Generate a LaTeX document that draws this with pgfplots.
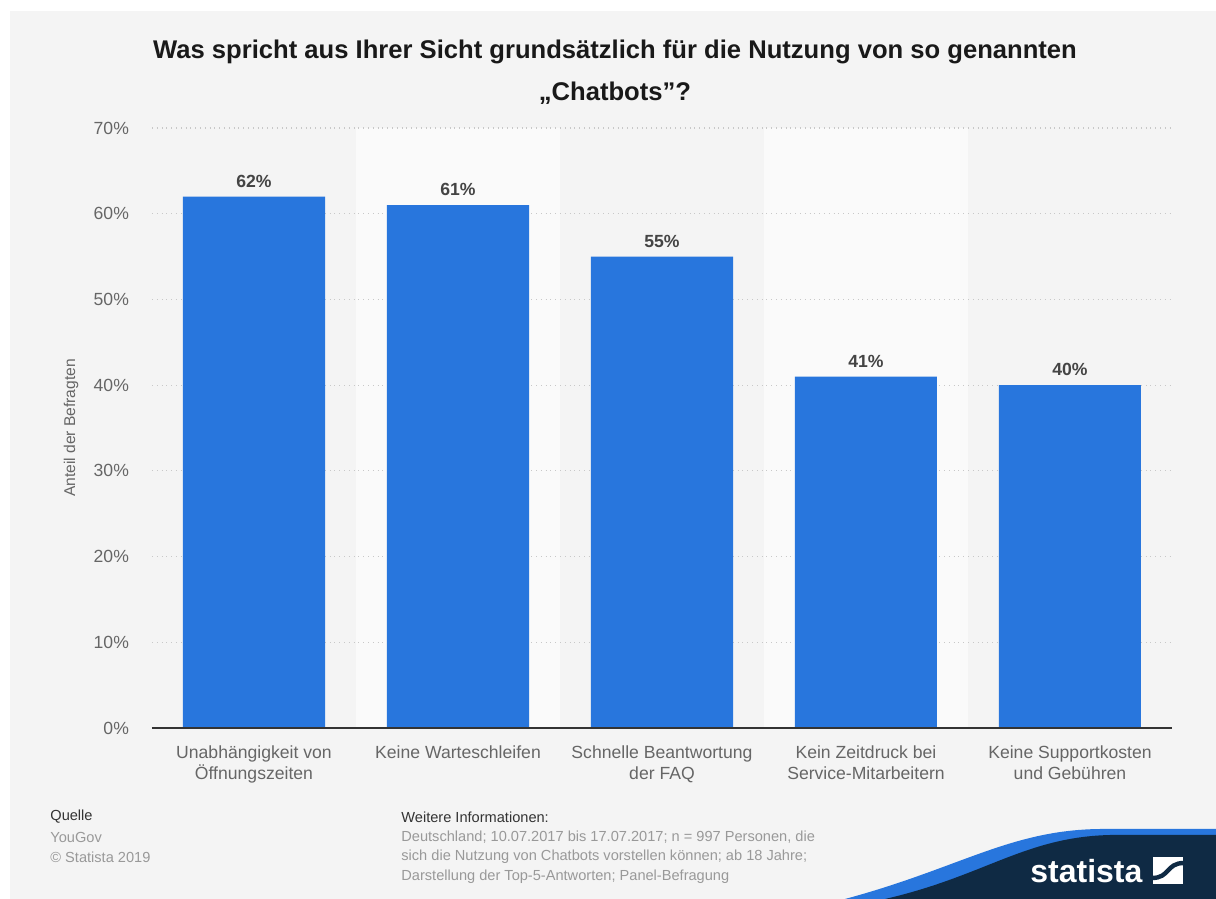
\documentclass[border=0pt]{standalone}
\usepackage{pgfplots}
\pgfplotsset{compat=1.18}
\usepackage{fontspec}
\setmainfont{Liberation Sans}
\definecolor{panel}{HTML}{F4F4F4}
\definecolor{lightcol}{HTML}{FAFAFA}
\definecolor{barblue}{HTML}{2876DD}
\definecolor{gridc}{HTML}{C8C8C8}
\definecolor{tickc}{HTML}{666666}
\definecolor{labc}{HTML}{444444}
\definecolor{footdark}{HTML}{333333}
\definecolor{footlight}{HTML}{999999}
\definecolor{navy}{HTML}{0F2A44}
\begin{document}
\begin{tikzpicture}
\begin{scope}[x=0.5pt,y=-0.5pt,shift={(0,449.5pt)}]
  \useasboundingbox (0,0) rectangle (1216,899);
  \fill[white] (0,0) rectangle (1216,899);
  \fill[panel] (10,11) rectangle (1216,899);
  \fill[lightcol] (356,128) rectangle (560,728);
  \fill[lightcol] (764,128) rectangle (968,728);
  % title
  \node[font=\fontsize{12.8pt}{14pt}\selectfont\bfseries, text=black!90] at (615,52) {Was spricht aus Ihrer Sicht grundsätzlich für die Nutzung von so genannten};
  \node[font=\fontsize{12.8pt}{14pt}\selectfont\bfseries, text=black!90] at (615,93) {„Chatbots”?};
  % y label
  \node[rotate=90, font=\fontsize{7.8pt}{9pt}\selectfont, text=tickc] at (71,428) {Anteil der Befragten};
  % footer
  \node[anchor=west, inner sep=0, font=\fontsize{7.3pt}{9pt}\selectfont, text=footdark] at (50,817) {Quelle};
  \node[anchor=west, inner sep=0, font=\fontsize{7.3pt}{9pt}\selectfont, text=footlight] at (50,837) {YouGov};
  \node[anchor=west, inner sep=0, font=\fontsize{7.3pt}{9pt}\selectfont, text=footlight] at (50,857) {© Statista 2019};
  \node[anchor=west, inner sep=0, font=\fontsize{7.3pt}{9pt}\selectfont, text=footdark] at (401,817) {Weitere Informationen:};
  \node[anchor=west, inner sep=0, font=\fontsize{7.3pt}{9pt}\selectfont, text=footlight] at (401,837) {Deutschland; 10.07.2017 bis 17.07.2017; n = 997 Personen, die};
  \node[anchor=west, inner sep=0, font=\fontsize{7.3pt}{9pt}\selectfont, text=footlight] at (401,857) {sich die Nutzung von Chatbots vorstellen können; ab 18 Jahre;};
  \node[anchor=west, inner sep=0, font=\fontsize{7.3pt}{9pt}\selectfont, text=footlight] at (401,877) {Darstellung der Top-5-Antworten; Panel-Befragung};
  % logo wave
  \fill[barblue] (845,899) .. controls (960,868) and (1010,830) .. (1100,829) -- (1216,829) -- (1216,899) -- cycle;
  \fill[navy] (885,899) .. controls (985,876) and (1025,837) .. (1110,835) -- (1216,835) -- (1216,899) -- cycle;
  \node[text=white, font=\fontsize{16pt}{17pt}\selectfont\bfseries, anchor=base west, inner sep=0] at (1030,883) {statista};
  \fill[white] (1153,857) rectangle (1183,884);
  \draw[navy, line width=2.2pt] (1152,878) .. controls (1170,878) and (1166,863) .. (1184,863);
\end{scope}
\begin{axis}[
  at={(76pt,85.5pt)}, anchor=south west,
  scale only axis, width=510pt, height=300pt,
  xmin=-0.5, xmax=4.5, ymin=0, ymax=70,
  ybar, bar width=71pt,
  /pgf/number format/assume math mode=true,
  axis line style={draw=none},
  major tick length=0pt,
  ytick={0,10,20,30,40,50,60,70},
  yticklabels={0\%,10\%,20\%,30\%,40\%,50\%,60\%,70\%},
  ymajorgrids, grid style={gridc, dotted, line width=0.6pt},
  xtick={0,1,2,3,4},
  xticklabels={{Unabhängigkeit von\\Öffnungszeiten},{Keine Warteschleifen},{Schnelle Beantwortung\\der FAQ},{Kein Zeitdruck bei\\Service-Mitarbeitern},{Keine Supportkosten\\und Gebühren}},
  xticklabel style={align=center, font=\fontsize{8.8pt}{10.5pt}\selectfont, text=tickc, yshift=-5.5pt},
  yticklabel style={font=\fontsize{8.8pt}{10pt}\selectfont, text=tickc, xshift=-8pt},
  nodes near coords={\pgfmathprintnumber{\pgfplotspointmeta}\%},
  nodes near coords style={font=\fontsize{8.8pt}{10pt}\selectfont\bfseries, text=labc, anchor=south, yshift=1pt},
  clip=false,
]
\addplot[fill=barblue, draw=none] coordinates {(0,62) (1,61) (2,55) (3,41) (4,40)};
\draw[footdark, line width=0.8pt] (axis cs:-0.5,0) -- (axis cs:4.5,0);
\end{axis}
\end{tikzpicture}
\end{document}
